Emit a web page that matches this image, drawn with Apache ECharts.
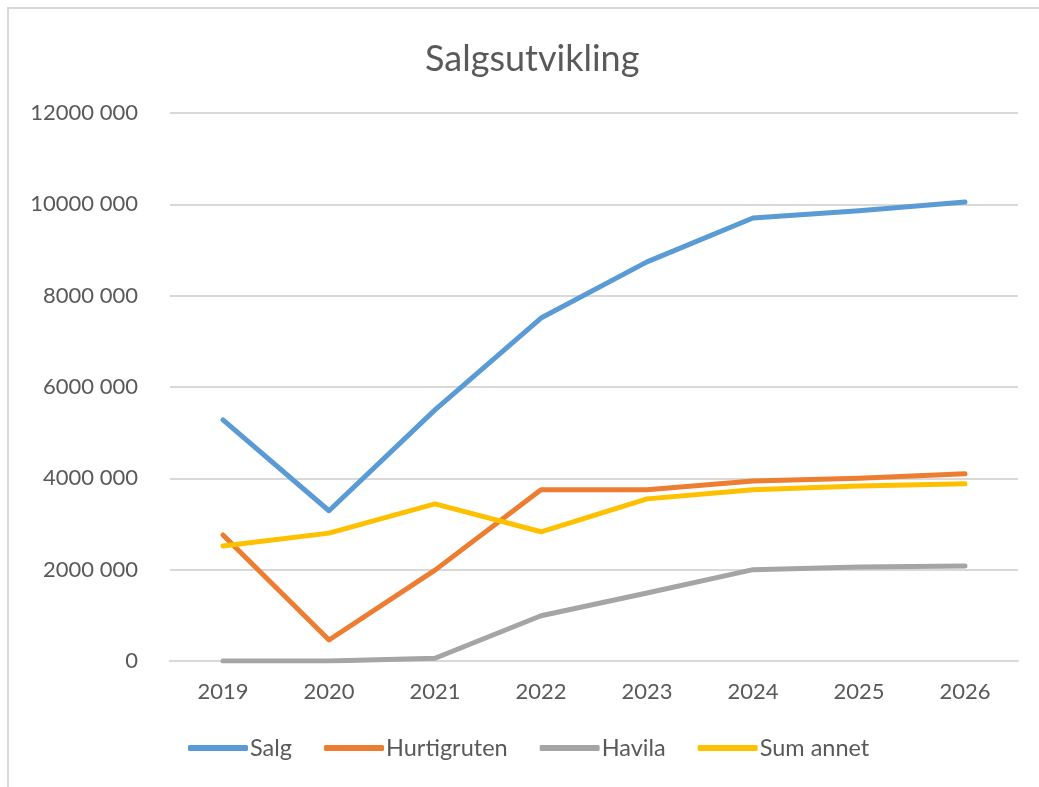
<!DOCTYPE html>
<html>
<head>
<meta charset="utf-8">
<script src="https://cdn.jsdelivr.net/npm/echarts@6/dist/echarts.min.js"></script>
<style>
html, body { margin: 0; padding: 0; background: #fff; }
#frame { position: absolute; left: 7px; top: 7px; width: 1100px; height: 900px; border: 2px solid #d9d9d9; box-sizing: border-box; }
#chart { position: absolute; left: 0; top: 0; width: 1039px; height: 787px; }
</style>
</head>
<body>
<div id="frame"></div>
<div id="chart"></div>
<script>
// kategorier og verdier lest av bildet
var years = ['2019', '2020', '2021', '2022', '2023', '2024', '2025', '2026'];
var salg = [5280000, 3290000, 5500000, 7510000, 8740000, 9700000, 9860000, 10050000];
var hurtigruten = [2760000, 460000, 1990000, 3750000, 3750000, 3940000, 4000000, 4100000];
var havila = [0, 0, 60000, 990000, 1490000, 2000000, 2060000, 2080000];
var sumAnnet = [2520000, 2800000, 3440000, 2830000, 3550000, 3750000, 3830000, 3880000];

var font = 'Lato';
var textColor = '#595959';

function line(name, data, color) {
    return {
        name: name,
        type: 'line',
        data: data,
        showSymbol: false,
        symbol: 'none',
        lineStyle: { color: color, width: 5, cap: 'round', join: 'round' },
        itemStyle: { color: color }
    };
}

var myChart = echarts.init(document.getElementById('chart'));
myChart.setOption({
    animation: false,
    textStyle: { fontFamily: font },
    title: {
        text: 'Salgsutvikling',
        left: 420,
        top: 36,
        textStyle: { fontFamily: font, fontSize: 36, fontWeight: 'normal', color: textColor }
    },
    legend: {
        bottom: 22,
        left: 183,
        itemWidth: 60,
        itemHeight: 6,
        itemGap: 32,
        icon: 'roundRect',
        textStyle: { fontFamily: font, fontSize: 23.5, color: textColor, padding: [0, 0, 0, -3] },
        data: ['Salg', 'Hurtigruten', 'Havila', 'Sum annet']
    },
    grid: { left: 170, right: 21, top: 113, bottom: 126 },
    xAxis: {
        type: 'category',
        data: years,
        boundaryGap: true,
        axisTick: { show: false },
        axisLine: { lineStyle: { color: '#d9d9d9', width: 2 } },
        axisLabel: { fontFamily: font, fontSize: 22, color: textColor, margin: 20 }
    },
    yAxis: {
        type: 'value',
        min: 0,
        max: 12000000,
        interval: 2000000,
        axisLine: { show: false },
        axisTick: { show: false },
        splitLine: { lineStyle: { color: '#d9d9d9', width: 2 } },
        axisLabel: {
            fontFamily: font, fontSize: 22, color: textColor, margin: 32,
            formatter: function (v) { return v === 0 ? '0' : (v / 1000) + ' 000'; }
        }
    },
    series: [
        line('Salg', salg, '#5b9bd5'),
        line('Hurtigruten', hurtigruten, '#ed7d31'),
        line('Havila', havila, '#a5a5a5'),
        line('Sum annet', sumAnnet, '#ffc000')
    ]
});
</script>
</body>
</html>
